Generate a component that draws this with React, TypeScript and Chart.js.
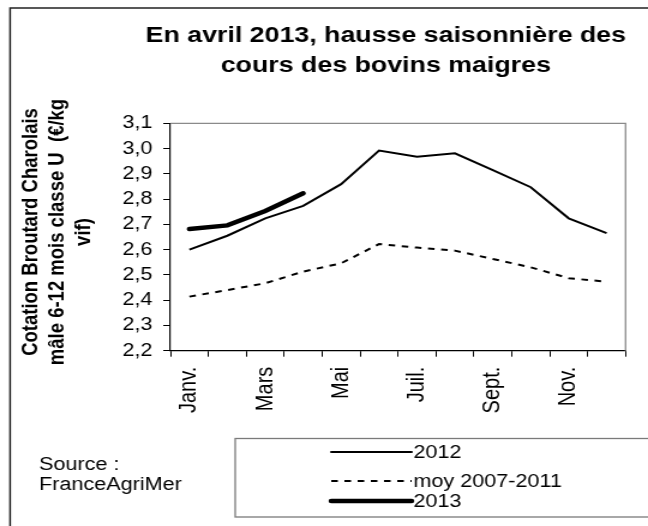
import React, { useEffect, useRef } from 'react';
import { Chart, registerables } from 'chart.js';

Chart.register(...registerables);

const months = ['Janv.', 'Févr.', 'Mars', 'Avr.', 'Mai', 'Juin', 'Juil.', 'Août', 'Sept.', 'Oct.', 'Nov.', 'Déc.'];
const serie2012 = [2.6, 2.655, 2.724, 2.773, 2.859, 2.992, 2.968, 2.981, 2.915, 2.847, 2.724, 2.665];
const serieMoy = [2.414, 2.44, 2.467, 2.513, 2.546, 2.622, 2.608, 2.596, 2.563, 2.53, 2.487, 2.473];
const serie2013 = [2.682, 2.696, 2.753, 2.823];
const seriesLabels = ['2012', 'moy 2007-2011', '2013'];
const yMin = 2.2;
const yMax = 3.1;
const yStep = 0.1;
const titleLines = ['En avril 2013, hausse saisonnière des', 'cours des bovins maigres'];
const yTitleLines = ['Cotation Broutard Charolais', 'mâle 6-12 mois classe U  (€/kg', 'vif)'];
const sourceLines = ['Source :', 'FranceAgriMer'];

const FONT = '"Liberation Sans", Arial, sans-serif';

const decor = {
  id: 'decor',
  afterDraw(chart: any) {
    const ctx: CanvasRenderingContext2D = chart.ctx;
    const { left, top, right, bottom } = chart.chartArea;
    ctx.save();
    // outer frame
    ctx.strokeStyle = '#222';
    ctx.lineWidth = 1.5;
    ctx.beginPath();
    ctx.moveTo(8.4, 600);
    ctx.lineTo(8.4, 8);
    ctx.lineTo(600, 8);
    ctx.stroke();

    // plot area border (top & right)
    ctx.strokeStyle = '#8a8a8a';
    ctx.lineWidth = 1.3;
    ctx.beginPath();
    ctx.moveTo(left, top);
    ctx.lineTo(right, top);
    ctx.lineTo(right, bottom);
    ctx.stroke();

    ctx.fillStyle = '#000';
    // title
    ctx.font = `bold 22.3px ${FONT}`;
    ctx.textAlign = 'center';
    ctx.textBaseline = 'alphabetic';
    ctx.fillText(titleLines[0], 321.5, 41.7);
    ctx.fillText(titleLines[1], 321.5, 71.7);

    // y axis title
    ctx.save();
    ctx.translate(0, 232);
    ctx.rotate(-Math.PI / 2);
    ctx.font = `bold 18.5px ${FONT}`;
    ctx.textAlign = 'center';
    yTitleLines.forEach((t, i) => ctx.fillText(t, 0, 30.6 + i * 22.3));
    ctx.restore();

    // source
    ctx.font = `18px ${FONT}`;
    ctx.textAlign = 'left';
    ctx.fillText(sourceLines[0], 32.5, 469.5);
    ctx.fillText(sourceLines[1], 32.5, 490);

    // legend
    ctx.strokeStyle = '#7a7a7a';
    ctx.lineWidth = 1.3;
    ctx.strokeRect(196, 438.5, 500, 78.5);
    const rows = [452, 481, 501];
    chart.data.datasets.forEach((ds: any, i: number) => {
      ctx.save();
      ctx.strokeStyle = ds.borderColor;
      ctx.lineWidth = ds.borderWidth;
      ctx.setLineDash(ds.borderDash || []);
      ctx.lineCap = ds.borderDash ? 'butt' : 'round';
      ctx.beginPath();
      ctx.moveTo(276, rows[i]);
      ctx.lineTo(343, rows[i]);
      ctx.stroke();
      ctx.restore();
      ctx.fillStyle = '#000';
      ctx.font = `18px ${FONT}`;
      ctx.textBaseline = 'middle';
      ctx.fillText(ds.label, 344.5, rows[i] + 1);
    });
    ctx.restore();
  },
};

export default function App() {
  const ref = useRef<HTMLCanvasElement>(null);
  useEffect(() => {
    if (!ref.current) return;
    Chart.defaults.font.family = FONT;
    const chart = new Chart(ref.current, {
      type: 'line',
      data: {
        labels: months,
        datasets: [
          {
            label: seriesLabels[0],
            data: serie2012,
            borderColor: '#000',
            borderWidth: 2,
            pointRadius: 0,
            tension: 0,
            fill: false,
          },
          {
            label: seriesLabels[1],
            data: serieMoy,
            borderColor: '#000',
            borderWidth: 2,
            borderDash: [5.5, 5.5],
            pointRadius: 0,
            tension: 0,
            fill: false,
          },
          {
            label: seriesLabels[2],
            data: serie2013,
            borderColor: '#000',
            borderWidth: 4.5,
            pointRadius: 0,
            tension: 0,
            fill: false,
            borderCapStyle: 'round',
          },
        ],
      },
      options: {
        responsive: false,
        devicePixelRatio: 1,
        animation: false,
        events: [],
        layout: { padding: { left: 0, top: 123.3, right: 12.2, bottom: 100.3 } },
        plugins: { legend: { display: false }, tooltip: { enabled: false }, title: { display: false } },
        scales: {
          x: {
            type: 'category',
            offset: true,
            grid: { offset: true, drawOnChartArea: false, drawTicks: true, tickLength: 6, color: '#000', lineWidth: 1 },
            border: { display: true, color: '#000', width: 1.2 },
            ticks: {
              autoSkip: false,
              minRotation: 90,
              maxRotation: 90,
              padding: 10,
              color: '#000',
              font: { size: 20, family: FONT },
              callback: function (this: any, val: any, i: number) {
                return i % 2 === 0 ? months[i] : '';
              },
            },
            afterFit: (s: any) => {
              s.height = 75;
            },
          },
          y: {
            min: yMin,
            max: yMax,
            grid: { drawOnChartArea: false, drawTicks: true, tickLength: 6, color: '#000', lineWidth: 1 },
            border: { display: true, color: '#000', width: 1.2 },
            ticks: {
              stepSize: yStep,
              padding: 9,
              color: '#000',
              font: { size: 18, family: FONT },
              callback: (v: any) => Number(v).toFixed(1).replace('.', ','),
            },
            afterFit: (s: any) => {
              s.width = 142;
            },
          },
        },
      },
      plugins: [decor],
    });
    return () => chart.destroy();
  }, []);
  return (
    <div style={{ position: 'fixed', left: 0, top: 0, width: 648, height: 526, background: '#fff', overflow: 'hidden' }}>
      <canvas ref={ref} width={540} height={526} style={{ width: '648px', height: '526px', display: 'block' }} />
    </div>
  );
}
